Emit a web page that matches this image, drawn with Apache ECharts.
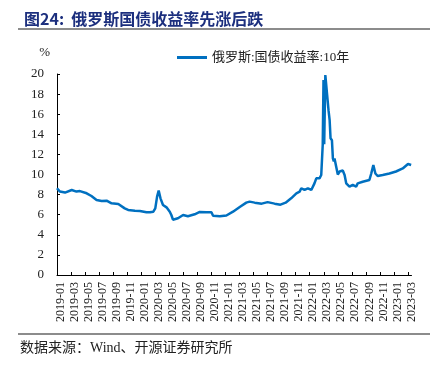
<!DOCTYPE html>
<html>
<head>
<meta charset="utf-8">
<script src="https://cdn.jsdelivr.net/npm/echarts@6/dist/echarts.min.js"></script>
<style>
  html, body { margin: 0; padding: 0; background: #fff; }
  #chart { width: 437px; height: 368px; }
</style>
</head>
<body>
<div id="chart"></div>
<script>
// 俄罗斯:国债收益率:10年 (%)
const dates = [
  "2019-01-01", "2019-01-14", "2019-02-05", "2019-03-04", "2019-03-25", "2019-04-09",
  "2019-05-08", "2019-05-29", "2019-06-20", "2019-07-12", "2019-08-03", "2019-08-25",
  "2019-09-23", "2019-09-30", "2019-10-21", "2019-11-05", "2019-12-04", "2019-12-26",
  "2020-01-24", "2020-02-08", "2020-02-22", "2020-03-01", "2020-03-09", "2020-03-16",
  "2020-03-24", "2020-04-04", "2020-04-19", "2020-05-03", "2020-05-10", "2020-05-17",
  "2020-06-08", "2020-06-30", "2020-07-21", "2020-08-20", "2020-09-11", "2020-10-09",
  "2020-11-01", "2020-11-08", "2020-12-07", "2021-01-05", "2021-02-03", "2021-03-02",
  "2021-03-31", "2021-04-14", "2021-05-06", "2021-06-06", "2021-07-01", "2021-08-01",
  "2021-08-27", "2021-09-18", "2021-10-12", "2021-11-04", "2021-11-18", "2021-11-25",
  "2021-12-09", "2021-12-24", "2022-01-08", "2022-01-22", "2022-01-30", "2022-02-05",
  "2022-02-12", "2022-02-19", "2022-02-23", "2022-02-25", "2022-02-28", "2022-03-03",
  "2022-03-08", "2022-03-12", "2022-03-16", "2022-03-22", "2022-03-27", "2022-03-31",
  "2022-04-06", "2022-04-10", "2022-04-14", "2022-04-17", "2022-04-24", "2022-05-01",
  "2022-05-09", "2022-05-16", "2022-05-23", "2022-05-31", "2022-06-07", "2022-06-21",
  "2022-07-05", "2022-07-20", "2022-07-27", "2022-08-18", "2022-09-16", "2022-09-24",
  "2022-10-03", "2022-10-12", "2022-10-22", "2022-11-13", "2022-12-12", "2023-01-10",
  "2023-02-08", "2023-03-01", "2023-03-15"
];
const yields = [
  8.63, 8.3, 8.2, 8.46, 8.3, 8.35,
  8.13, 7.86, 7.46, 7.36, 7.4, 7.13,
  7.06, 7.0, 6.63, 6.47, 6.4, 6.37,
  6.24, 6.24, 6.3, 6.63, 7.8, 8.4,
  7.63, 6.97, 6.73, 6.3, 5.97, 5.5,
  5.64, 5.97, 5.85, 6.04, 6.27, 6.24,
  6.24, 5.9, 5.85, 5.92, 6.3, 6.77,
  7.2, 7.3, 7.2, 7.1, 7.25, 7.1,
  7.0, 7.2, 7.63, 8.13, 8.3, 8.63,
  8.46, 8.63, 8.46, 9.12, 9.62, 9.78,
  9.62, 9.95, 10.1, 13.0, 19.4, 13.0,
  19.9, 19.9, 17.9, 16.4, 15.4, 13.6,
  13.4, 11.6, 11.3, 11.6, 10.8, 10.0,
  10.3, 10.45, 10.4, 9.95, 9.12, 8.79,
  8.96, 8.79, 9.12, 9.28, 9.45, 10.1,
  10.95, 10.1, 9.85, 9.95, 10.1, 10.3,
  10.6, 11.05, 10.95
];
const monthLabels = [];
for (let y = 2019; y <= 2023; y++) {
  for (let m = 1; m <= 12; m += 2) {
    if (y === 2023 && m > 3) break;
    monthLabels.push(y + "-" + String(m).padStart(2, "0"));
  }
}
const yTicks = [0, 2, 4, 6, 8, 10, 12, 14, 16, 18, 20];

// months since 2019-01-01 (fractional)
function monthIndex(s) {
  const [y, m, d] = s.split("-").map(Number);
  const days = new Date(y, m, 0).getDate();
  return (y - 2019) * 12 + (m - 1) + (d - 1) / days;
}
function labelIndex(s) {
  const [y, m] = s.split("-").map(Number);
  return (y - 2019) * 12 + (m - 1);
}

const serif = "'Liberation Serif', 'Noto Sans CJK SC', serif";
const cjk = "'Noto Sans CJK SC', sans-serif";
const labelPos = monthLabels.map((s) => labelIndex(s) + 0.5);
const tickPos = monthLabels.map((s) => labelIndex(s));

const chart = echarts.init(document.getElementById("chart"));
chart.setOption({
  animation: false,
  title: {
    text: "图24:  俄罗斯国债收益率先涨后跌",
    left: 19,
    top: 6,
    textStyle: { color: "#1c2f7e", fontSize: 16, fontWeight: "bold", fontFamily: cjk }
  },
  graphic: [
    { type: "line", shape: { x1: 18, y1: 29, x2: 430, y2: 29 }, style: { stroke: "#8c8c8c", lineWidth: 2 } },
    { type: "line", shape: { x1: 18, y1: 334, x2: 430, y2: 334 }, style: { stroke: "#8c8c8c", lineWidth: 2 } },
    {
      type: "text", left: 20, top: 341,
      style: { text: "数据来源：Wind、开源证券研究所", fill: "#222", fontSize: 14, fontFamily: serif }
    }
  ],
  legend: {
    left: 172,
    top: 46,
    icon: "rect",
    itemWidth: 30,
    itemHeight: 3,
    itemGap: 10,
    textStyle: { color: "#222", fontSize: 13, fontFamily: serif }
  },
  grid: { left: 57, right: 25.5, top: 74, bottom: 93, containLabel: false },
  xAxis: {
    type: "value",
    min: 0,
    max: 50.5,
    splitLine: { show: false },
    axisLine: { show: true, onZero: false, lineStyle: { color: "#000", width: 1 } },
    axisTick: { show: true, inside: true, length: 3, customValues: tickPos, lineStyle: { color: "#000" } },
    axisLabel: {
      customValues: labelPos,
      rotate: 90,
      margin: 7,
      color: "#222",
      fontSize: 12,
      fontFamily: serif,
      formatter: (v) => monthLabels[labelPos.indexOf(v)] || ""
    }
  },
  yAxis: {
    type: "value",
    min: 0,
    max: 20,
    interval: 2,
    name: "%",
    nameLocation: "end",
    nameGap: 15,
    nameTextStyle: { color: "#222", fontSize: 13, fontFamily: serif, align: "right", padding: [0, 7, 0, 0] },
    splitLine: { show: false },
    axisLine: { show: true, lineStyle: { color: "#000", width: 1 } },
    axisTick: { show: true, inside: true, length: 3, lineStyle: { color: "#000" } },
    axisLabel: {
      margin: 13,
      color: "#222",
      fontSize: 13,
      fontFamily: serif,
      customValues: yTicks
    }
  },
  series: [
    {
      name: "俄罗斯:国债收益率:10年",
      type: "line",
      showSymbol: false,
      symbol: "none",
      lineStyle: { color: "#0070c0", width: 2.5 },
      itemStyle: { color: "#0070c0" },
      data: dates.map((d, i) => [monthIndex(d), yields[i]])
    }
  ]
});
</script>
</body>
</html>
